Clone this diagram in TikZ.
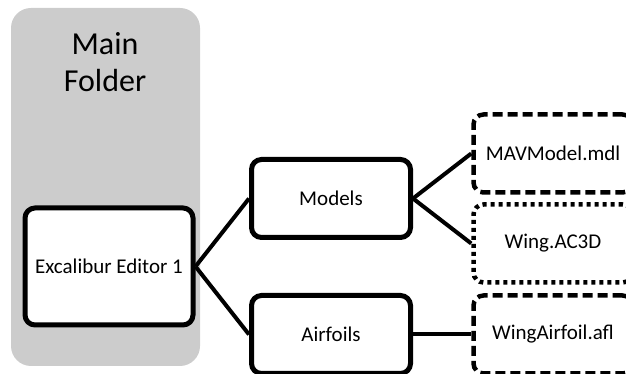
\documentclass[tikz,border=0pt]{standalone}
\usepackage{fontspec}
\setmainfont{Carlito}
\usepackage{tikz}
\usepackage{xcolor}

\tikzset{
  folder/.style={draw, line width=5pt, rounded corners=10pt, fill=white,
    minimum width=159pt, minimum height=78pt, inner sep=0pt,
    font=\fontsize{21}{25}\selectfont},
  editor/.style={folder, minimum width=168pt, minimum height=117pt},
  dashfile/.style={folder, line width=4.5pt, dash pattern=on 10pt off 5pt},
  dotfile/.style={folder, line width=4.5pt, dash pattern=on 4pt off 4pt}
}

\begin{document}
\begin{tikzpicture}[x=1pt,y=1pt,grow'=right,
	  level distance=222pt,
	  edge from parent/.style={draw, line width=4pt},
	  edge from parent path={(\tikzparentnode.east) -- (\tikzchildnode.west)},
	  level 1/.style={sibling distance=136pt},
	  level 2/.style={sibling distance=90pt}]

	  \useasboundingbox (0,0) rectangle (626,374);
	  \clip (0,0) rectangle (626,374);

	  % grey backdrop of the main folder
	  \fill[gray!40, rounded corners=20pt] (11,8) rectangle (200,366);
	  \node[align=center, font=\fontsize{32}{37}\selectfont] (main) at (105,312) {Main\\Folder};

	  \node[editor] (excal) at (109,107.5) {Excalibur Editor 1}
	    child {node[folder] (models) {Models}
	      child {node[dashfile] (mdl) {MAVModel.mdl}}
	      child {node[dotfile] (ac3d) {Wing.AC3D}}
	    }
	    child {node[folder] (airfoils) {Airfoils}
	      child {node[dashfile] (afl) {WingAirfoil.afl}}
	    };
	\end{tikzpicture}
\end{document}
